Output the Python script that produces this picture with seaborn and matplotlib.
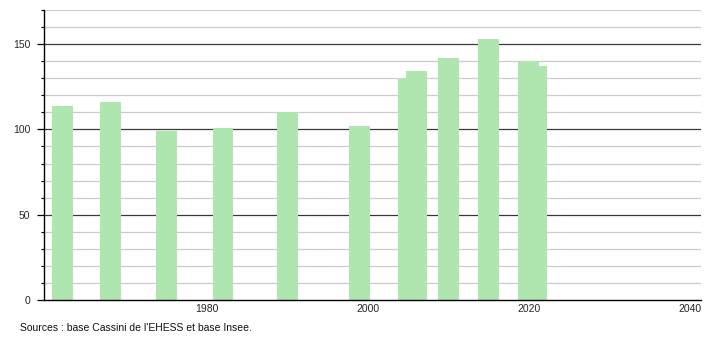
import matplotlib
matplotlib.use("Agg")
import matplotlib.pyplot as plt
import seaborn as sns
import pandas as pd
from matplotlib.ticker import MultipleLocator

years = [1962, 1968, 1975, 1982, 1990, 1999, 2005, 2006, 2010, 2015, 2020, 2021]
population = [114, 116, 99, 101, 110, 102, 130, 134, 142, 153, 140, 137]
x_ticks = [1980, 2000, 2020, 2040]
y_ticks = [0, 50, 100, 150]
source_text = "Sources : base Cassini de l'EHESS et base Insee."

sns.set_theme(style="white")
plt.rcParams['font.family'] = ['Liberation Sans', 'DejaVu Sans']

df = pd.DataFrame({"year": years, "pop": population})

fig = plt.figure(figsize=(7.1, 3.4), dpi=100)
ax = fig.add_axes([44/710, 40/340, (701-44)/710, 290/340])

sns.barplot(data=df, x="year", y="pop", native_scale=True, width=2.6,
            color="#afe5af", saturation=1, edgecolor="none", linewidth=0,
            ax=ax, zorder=3)

ax.set_xlim(1959.75, 2041.4)
ax.set_ylim(0, 170)

ax.set_xticks(x_ticks)
ax.set_xticklabels([str(t) for t in x_ticks])
ax.set_yticks(y_ticks)
ax.yaxis.set_minor_locator(MultipleLocator(10))

for v in range(10, 171, 10):
    if v % 50 == 0:
        ax.axhline(v, color="#3a3a3a", linewidth=0.9, zorder=1)
    else:
        ax.axhline(v, color="#cccccc", linewidth=0.9, zorder=1)

for s in ["top", "right"]:
    ax.spines[s].set_visible(False)
for s in ["left", "bottom"]:
    ax.spines[s].set_visible(True)
    ax.spines[s].set_color("black")
    ax.spines[s].set_linewidth(1.0)
ax.spines["bottom"].set_zorder(5)

ax.tick_params(axis="y", which="major", length=5, width=0.9, color="black",
               labelsize=7.5, pad=5, left=True, direction="out")
ax.tick_params(axis="y", which="minor", length=2.5, width=0.8, color="black",
               left=True, direction="out")
ax.tick_params(axis="x", which="both", length=0, labelsize=7.5, pad=3)

ax.set_xlabel("")
ax.set_ylabel("")
ax.grid(False)

fig.text(20/710, 1 - 328/340, source_text, fontsize=7.5, ha="left", va="center",
         color="#111111")

fig.savefig("out.png", dpi=100)
